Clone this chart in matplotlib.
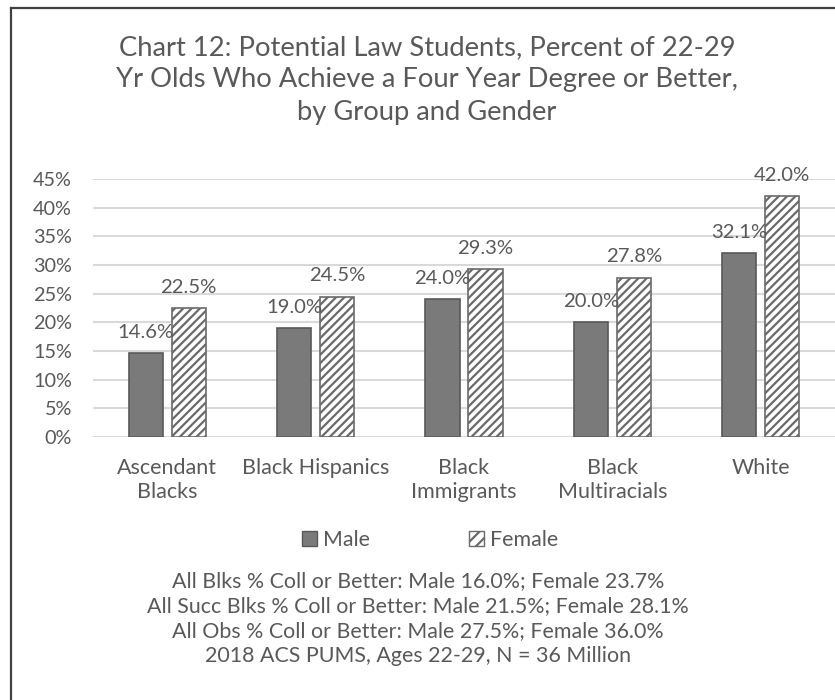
import matplotlib
matplotlib.use("Agg")
import matplotlib.pyplot as plt
import numpy as np
from matplotlib.lines import Line2D
from matplotlib.patches import Patch

categories = ["Ascendant\nBlacks", "Black Hispanics", "Black\nImmigrants", "Black\nMultiracials", "White"]
male = [14.6, 19.0, 24.0, 20.0, 32.1]
female = [22.5, 24.5, 29.3, 27.8, 42.0]
yticks = [0, 5, 10, 15, 20, 25, 30, 35, 40, 45]
title = "Chart 12: Potential Law Students, Percent of 22-29\nYr Olds Who Achieve a Four Year Degree or Better,\nby Group and Gender"
notes = ["All Blks % Coll or Better: Male 16.0%; Female 23.7%",
         "All Succ Blks % Coll or Better: Male 21.5%; Female 28.1%",
         "All Obs % Coll or Better: Male 27.5%; Female 36.0%",
         "2018 ACS PUMS, Ages 22-29, N = 36 Million"]

plt.rcParams['font.family'] = ['Lato', 'DejaVu Sans']
plt.rcParams['hatch.linewidth'] = 1.6
TXT = "#595959"

fig = plt.figure(figsize=(8.35, 7), dpi=100)
ax = fig.add_axes([93/835, 1-437/700, 1-93/835, (437-179)/700])

x = np.arange(len(categories))
w = 0.23
off = 0.145
ax.bar(x - off, male, w, color="#7a7a7a", edgecolor="#595959", linewidth=1.2, zorder=3, label="Male")
ax.bar(x + off, female, w, color="white", edgecolor="#6a6a6a", hatch="////", linewidth=1.2, zorder=3, label="Female")

for i in range(len(categories)):
    ax.annotate(f"{male[i]:.1f}%", (x[i]-off, male[i]), xytext=(0, 11), textcoords="offset points",
                ha="center", va="baseline", fontsize=14.6, color=TXT)
    ax.annotate(f"{female[i]:.1f}%", (x[i]+off, female[i]), xytext=(0, 11), textcoords="offset points",
                ha="center", va="baseline", fontsize=14.6, color=TXT)

ax.set_xlim(-0.5, len(categories)-0.5)
ax.set_ylim(0, 45)
ax.set_yticks(yticks)
ax.set_yticklabels([f"{t}%" for t in yticks], fontsize=14.3, color=TXT)
ax.set_xticks(x)
ax.set_xticklabels(categories, fontsize=15.5, color=TXT, linespacing=1.25)
ax.tick_params(length=0)
ax.tick_params(axis='x', pad=15)
ax.tick_params(axis='y', pad=15)
for s in ax.spines.values():
    s.set_visible(False)
ax.yaxis.grid(True, color="#d9d9d9", linewidth=1.5, zorder=0)
ax.set_axisbelow(True)

fig.text(427/835, 1-80/700, title, ha="center", va="center", fontsize=19.7, color=TXT, linespacing=1.38)

handles = [Patch(facecolor="#7a7a7a", edgecolor="#595959"), Patch(facecolor="white", edgecolor="#6a6a6a", hatch="///")]
fig.legend(handles, ["Male", "Female"], loc="center", bbox_to_anchor=(430/835, 1-540/700), ncol=2,
           frameon=False, fontsize=15.4, labelcolor=TXT, handlelength=0.7, handleheight=0.7,
           handletextpad=0.3, columnspacing=4.6)

for k, line in enumerate(notes):
    fig.text(418/835, 1-(581+25*k)/700, line, ha="center", va="center", fontsize=15.4, color=TXT)

fig.add_artist(Line2D([11/835, 11/835], [0, 1-8/700], color="#404040", linewidth=1.6))
fig.add_artist(Line2D([11/835, 1], [1-8/700, 1-8/700], color="#404040", linewidth=1.6))

fig.savefig("out.png", dpi=100, facecolor="white")
